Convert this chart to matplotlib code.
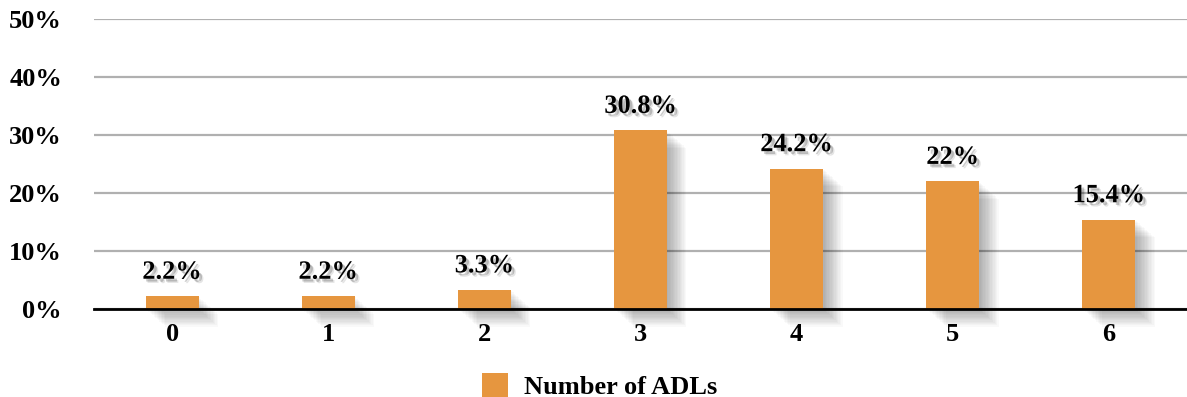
import numpy as np
import matplotlib
matplotlib.use("Agg")
import matplotlib.pyplot as plt
import matplotlib.patheffects as pe
from matplotlib.patches import Patch

categories = ["0", "1", "2", "3", "4", "5", "6"]
values = [2.2, 2.2, 3.3, 30.8, 24.2, 22, 15.4]
labels = ["2.2%", "2.2%", "3.3%", "30.8%", "24.2%", "22%", "15.4%"]
yticks = [0, 10, 20, 30, 40, 50]
series_name = "Number of ADLs"

bar_color = "#E6963F"
plt.rcParams["font.family"] = ["Liberation Serif", "DejaVu Serif"]
plt.rcParams["font.weight"] = "bold"

fig = plt.figure(figsize=(11.87, 3.97), dpi=100)
ax = fig.add_axes([94 / 1187, 88 / 397, 1 - 94 / 1187, 290 / 397])

x = np.arange(len(categories))

# soft shadow: many shifted patches with low alpha to fake a blur
shadow = []
for off in np.arange(14, 0, -1):
    shadow.append(pe.SimplePatchShadow(offset=(off, -off * 0.9), shadow_rgbFace="black", alpha=0.025))
shadow.append(pe.Normal())

bars = ax.bar(x, values, width=0.34, color=bar_color, zorder=3, clip_on=False)
for b in bars:
    b.set_path_effects(shadow)

text_shadow = [pe.SimplePatchShadow(offset=(2, -2), shadow_rgbFace="black", alpha=0.2),
               pe.SimplePatchShadow(offset=(3, -3), shadow_rgbFace="black", alpha=0.1),
               pe.Normal()]
for xi, v, lab in zip(x, values, labels):
    t = ax.annotate(lab, (xi, v), xytext=(0, 9), textcoords="offset points",
                    ha="center", va="bottom", fontsize=19, fontweight="bold", zorder=5)
    t.set_path_effects(text_shadow)

ax.set_xlim(-0.5, len(categories) - 0.5)
ax.set_ylim(0, 50)
ax.set_yticks(yticks)
ax.set_yticklabels([f"{t}%" for t in yticks], fontsize=19, fontweight="bold")
ax.set_xticks(x)
ax.set_xticklabels(categories, fontsize=19, fontweight="bold")
ax.tick_params(axis="y", length=0, pad=23)
ax.tick_params(axis="x", length=0, pad=10)

ax.grid(axis="y", color="#B0B0B0", linewidth=1.6, zorder=0)
ax.set_axisbelow(True)
for s in ["top", "right", "left"]:
    ax.spines[s].set_visible(False)
ax.spines["bottom"].set_linewidth(2)
ax.spines["bottom"].set_zorder(4)

handle = Patch(facecolor=bar_color, edgecolor="none")
fig.legend([handle], [series_name], loc="lower center", bbox_to_anchor=(0.505, -0.065),
           frameon=False, prop={"size": 19, "weight": "bold"},
           handlelength=1.0, handleheight=1.0, handletextpad=0.6)

fig.savefig("out.png", dpi=100)
